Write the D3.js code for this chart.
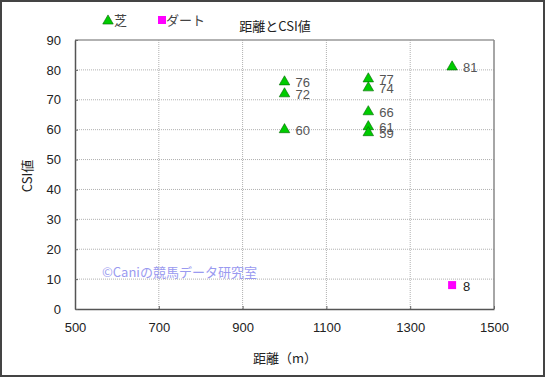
<!DOCTYPE html>
<html><head><meta charset="utf-8">
<script src="https://cdn.jsdelivr.net/npm/d3@7"></script>
<style>body{margin:0;background:#fff;} svg{display:block;font-family:"Noto Sans CJK JP","Liberation Sans",sans-serif;}</style>
</head><body>
<script>
const turfDist = [1000, 1000, 1000, 1200, 1200, 1200, 1200, 1200, 1400];
const turfCSI  = [76, 72, 60, 77, 74, 66, 61, 59, 81];
const dirtDist = [1400];
const dirtCSI  = [8];
const xTicks = [500, 700, 900, 1100, 1300, 1500];
const yTicks = [0, 10, 20, 30, 40, 50, 60, 70, 80, 90];
const title = "距離とCSI値";
const xTitle = "距離（m）";
const yTitle = "CSI値";
const legendNames = ["芝", "ダート"];
const watermark = "©Caniの競馬データ研究室";

const W = 545, H = 377;
const svg = d3.select("body").append("svg").attr("width", W).attr("height", H);
svg.append("rect").attr("x",1).attr("y",1).attr("width",W-2).attr("height",H-2)
  .attr("fill","#fff").attr("stroke","#444").attr("stroke-width",2);

const L = 75, R = 494, T = 40, B = 309;
const x = d3.scaleLinear().domain([500,1500]).range([L,R]);
const y = d3.scaleLinear().domain([0,90]).range([B,T]);

// grid
const g = svg.append("g");
g.selectAll(".gx").data(xTicks.slice(1,-1)).join("line")
  .attr("x1",d=>x(d)).attr("x2",d=>x(d)).attr("y1",T).attr("y2",B)
  .attr("stroke","#b0b0b0").attr("stroke-width",1).attr("stroke-dasharray","1,1");
g.selectAll(".gy").data(yTicks.slice(1,-1)).join("line")
  .attr("x1",L).attr("x2",R).attr("y1",d=>y(d)).attr("y2",d=>y(d))
  .attr("stroke","#b0b0b0").attr("stroke-width",1).attr("stroke-dasharray","1,1");

// frame of plot
svg.append("line").attr("x1",L).attr("x2",R).attr("y1",T).attr("y2",T).attr("stroke","#999").attr("stroke-width",1.5);
svg.append("line").attr("x1",R).attr("x2",R).attr("y1",T).attr("y2",B).attr("stroke","#888").attr("stroke-width",1.5);

// axes (ticks pointing inward)
const xAxis = d3.axisBottom(x).tickValues(xTicks).tickSizeInner(-3).tickSizeOuter(0).tickPadding(14).tickFormat(d3.format("d"));
const yAxis = d3.axisLeft(y).tickValues(yTicks).tickSizeInner(-3).tickSizeOuter(0).tickPadding(14);
const ax = svg.append("g").attr("transform",`translate(0,${B})`).call(xAxis);
const ay = svg.append("g").attr("transform",`translate(${L},0)`).call(yAxis);
[ax,ay].forEach(a=>{
  a.select(".domain").attr("stroke","#555").attr("stroke-width",1.5);
  a.selectAll(".tick line").attr("stroke","#666");
  a.selectAll("text").attr("font-family","Liberation Sans, Arial, sans-serif").attr("font-size",13).attr("fill","#222");
});
ax.selectAll("text").attr("dy","0.71em");

// titles
svg.append("text").attr("x",275).attr("y",31).attr("text-anchor","middle")
  .attr("font-size",13).attr("fill","#222").text(title);
svg.append("text").attr("x",285).attr("y",363).attr("text-anchor","middle")
  .attr("font-size",13).attr("fill","#222").text(xTitle);
svg.append("text").attr("transform","translate(32,176) rotate(-90)").attr("text-anchor","middle")
  .attr("font-size",13).attr("fill","#222").text(yTitle);

// watermark
svg.append("text").attr("x",102).attr("y",277).attr("font-size",13).attr("fill","#9a9af0").text(watermark);

// markers
const tri = d3.symbol().type(d3.symbolTriangle).size(48);
const turf = turfDist.map((d,i)=>({d, v:turfCSI[i]}));
svg.selectAll(".t").data(turf).join("path")
  .attr("transform",p=>`translate(${x(p.d)},${y(p.v)})`)
  .attr("d",tri).attr("fill","#00cc00").attr("stroke","#006600").attr("stroke-width",0.6);
svg.selectAll(".tl").data(turf).join("text")
  .attr("x",p=>x(p.d)+11).attr("y",p=>y(p.v)+5)
  .attr("font-family","Liberation Sans, Arial, sans-serif").attr("font-size",13).attr("fill","#555").text(p=>p.v);
const dirt = dirtDist.map((d,i)=>({d, v:dirtCSI[i]}));
svg.selectAll(".d").data(dirt).join("rect")
  .attr("x",p=>x(p.d)-4).attr("y",p=>y(p.v)-4).attr("width",8).attr("height",8).attr("fill","#ff00ff");
svg.selectAll(".dl").data(dirt).join("text")
  .attr("x",p=>x(p.d)+11).attr("y",p=>y(p.v)+6)
  .attr("font-family","Liberation Sans, Arial, sans-serif").attr("font-size",13).attr("fill","#222").text(p=>p.v);

// legend
svg.append("path").attr("transform","translate(108,21)").attr("d",tri).attr("fill","#00cc00").attr("stroke","#006600").attr("stroke-width",0.6);
svg.append("text").attr("x",114).attr("y",25).attr("font-size",13).attr("fill","#444").text(legendNames[0]);
svg.append("rect").attr("x",158).attr("y",16).attr("width",8).attr("height",8).attr("fill","#ff00ff");
svg.append("text").attr("x",166).attr("y",25).attr("font-size",13).attr("fill","#444").text(legendNames[1]);
</script>
</body></html>
